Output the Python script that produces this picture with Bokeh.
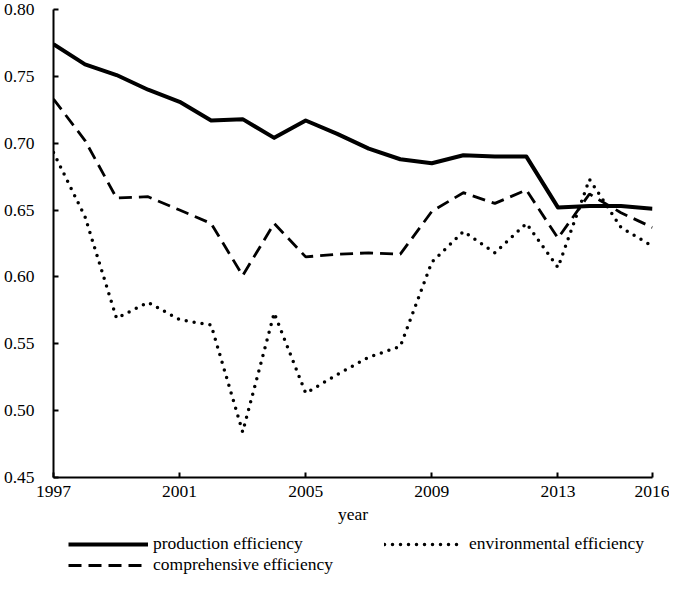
from bokeh.plotting import figure
from bokeh.layouts import column
from bokeh.models import Range1d, FixedTicker, Legend, LegendItem, CustomJSTickFormatter
from bokeh.embed import file_html
from bokeh.resources import INLINE

years = list(range(1997, 2017))
production = [0.774, 0.759, 0.751, 0.740, 0.731, 0.717, 0.718, 0.704, 0.717, 0.707,
              0.696, 0.688, 0.685, 0.691, 0.690, 0.690, 0.652, 0.653, 0.653, 0.651]
comprehensive = [0.733, 0.702, 0.659, 0.660, 0.650, 0.640, 0.601, 0.640, 0.615, 0.617,
                 0.618, 0.617, 0.649, 0.663, 0.655, 0.665, 0.629, 0.662, 0.648, 0.637]
environmental = [0.693, 0.645, 0.569, 0.581, 0.568, 0.564, 0.484, 0.573, 0.513, 0.527,
                 0.540, 0.548, 0.611, 0.634, 0.618, 0.640, 0.607, 0.673, 0.637, 0.623]
x_ticks = [1997, 2001, 2005, 2009, 2013, 2016]
y_ticks = [0.45, 0.50, 0.55, 0.60, 0.65, 0.70, 0.75, 0.80]

FONT = "Liberation Serif"
FS = "17.5px"
STYLES = {
    "production": dict(line_color="black", line_width=4, line_join="round"),
    "comprehensive": dict(line_color="black", line_width=2.8, line_dash="13 7"),
    "environmental": dict(line_color="black", line_width=3.5, line_dash="0 8", line_cap="round"),
}

p = figure(width=669, height=532, output_backend="svg", toolbar_location=None,
           x_range=Range1d(1997, 2016), y_range=Range1d(0.45, 0.80),
           min_border_left=52, min_border_right=17, min_border_top=9, min_border_bottom=55)
p.outline_line_color = None
p.grid.visible = False
p.background_fill_color = "white"

p.line(years, production, **STYLES["production"])
p.line(years, comprehensive, **STYLES["comprehensive"])
p.line(years, environmental, **STYLES["environmental"])

for ax in (p.xaxis[0], p.yaxis[0]):
    ax.axis_line_width = 2
    ax.axis_line_color = "black"
    ax.major_tick_line_width = 2
    ax.major_tick_line_color = "black"
    ax.major_tick_in = 5
    ax.major_tick_out = 0
    ax.minor_tick_line_color = None
    ax.major_label_text_font = FONT
    ax.major_label_text_font_size = FS
    ax.major_label_text_color = "black"
    ax.axis_label_text_font = FONT
    ax.axis_label_text_font_size = FS
    ax.axis_label_text_font_style = "normal"
    ax.axis_label_text_color = "black"

p.xaxis.ticker = FixedTicker(ticks=x_ticks)
p.yaxis.ticker = FixedTicker(ticks=y_ticks)
p.yaxis.formatter = CustomJSTickFormatter(code="return tick.toFixed(2);")
p.xaxis.major_label_standoff = 8
p.yaxis.major_label_standoff = 19
p.xaxis.axis_label = "year"
p.xaxis.axis_label_standoff = 4

# legend strip below the chart (proxy lines lie outside this strip's view)
lg = figure(width=669, height=44, output_backend="svg", toolbar_location=None,
            x_axis_type=None, y_axis_type=None,
            x_range=Range1d(0, 1), y_range=Range1d(0, 1),
            min_border_left=0, min_border_right=0, min_border_top=0, min_border_bottom=0)
lg.outline_line_color = None
lg.grid.visible = False
e1 = lg.line(years, production, **STYLES["production"])
e2 = lg.line(years, comprehensive, **STYLES["comprehensive"])
e3 = lg.line(years, environmental, **STYLES["environmental"])

legend = Legend(items=[LegendItem(label="production efficiency", renderers=[e1]),
                       LegendItem(label="comprehensive efficiency", renderers=[e2]),
                       LegendItem(label="environmental efficiency", renderers=[e3])],
                nrows=2, orientation="vertical", location=(15, 1))
legend.glyph_width = 80
legend.glyph_height = 18
legend.label_height = 18
legend.label_width = 231
legend.label_standoff = 5
legend.spacing = 0
legend.padding = 0
legend.margin = 0
legend.border_line_color = None
legend.background_fill_alpha = 0
legend.label_text_font = FONT
legend.label_text_font_size = FS
legend.label_text_color = "black"
lg.add_layout(legend, "center")

open("out.html", "w").write(file_html(column(p, lg, spacing=0), INLINE))
